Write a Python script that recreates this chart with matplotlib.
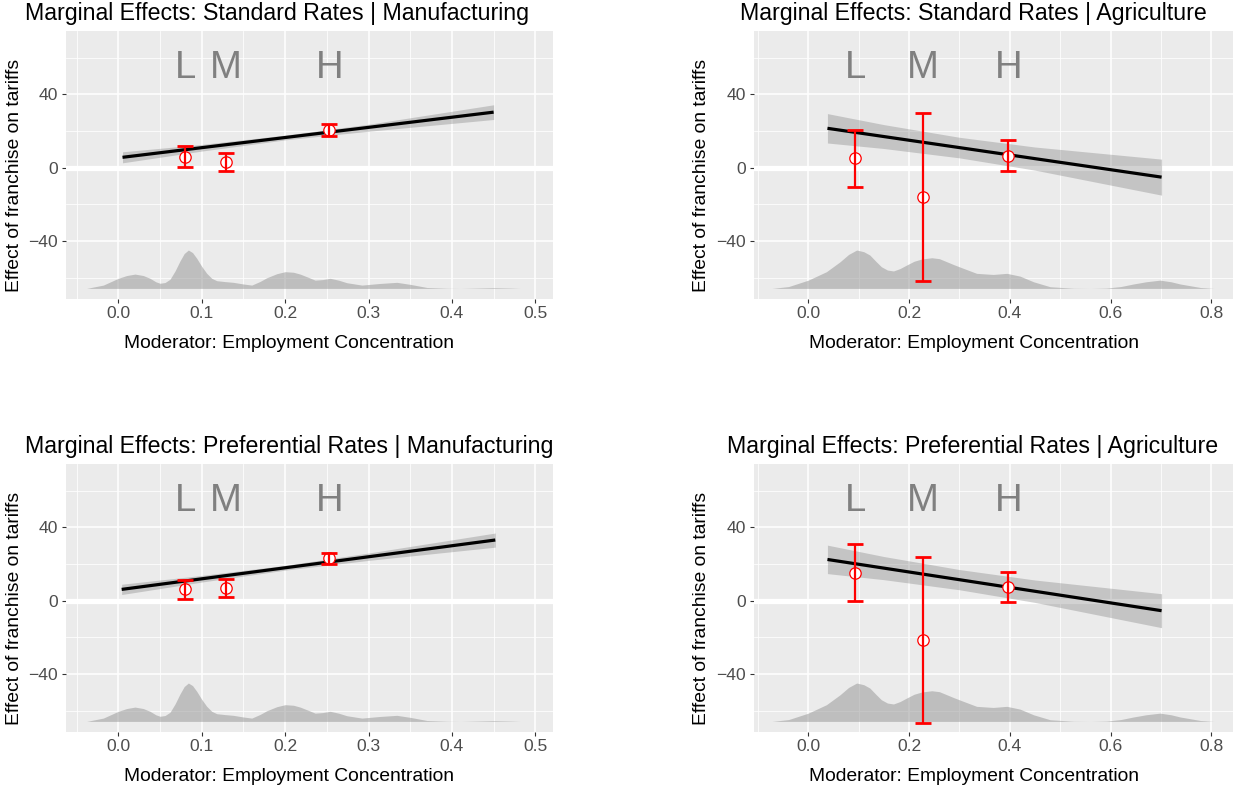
import matplotlib
matplotlib.use('Agg')
import matplotlib.pyplot as plt
from matplotlib.ticker import FixedLocator

plt.rcParams['font.family'] = ['Liberation Sans', 'DejaVu Sans']

# ---------------- data ----------------
titles = ["Marginal Effects: Standard Rates | Manufacturing",
          "Marginal Effects: Standard Rates | Agriculture",
          "Marginal Effects: Preferential Rates | Manufacturing",
          "Marginal Effects: Preferential Rates | Agriculture"]
xlabel = "Moderator: Employment Concentration"
ylabel = "Effect of franchise on tariffs"
bin_labels = ["L", "M", "H"]

# density of moderator (heights in y units above baseline)
manu_dens_x = [-0.038, -0.018, 0.0, 0.010, 0.020, 0.030, 0.038, 0.045, 0.05, 0.056, 0.062, 0.068,
               0.074, 0.079, 0.084, 0.089, 0.094, 0.100, 0.106, 0.112, 0.118, 0.128, 0.138, 0.150,
               0.160, 0.170, 0.178, 0.190, 0.2, 0.210, 0.218, 0.228, 0.236, 0.245, 0.254, 0.264,
               0.274, 0.292, 0.314, 0.334, 0.35, 0.37, 0.394, 0.41, 0.43, 0.45, 0.47, 0.482]
manu_dens_h = [0, 1.8, 5.5, 7.0, 7.8, 7.0, 5.5, 3.6, 2.8, 3.2, 5.0, 9.5,
               15.0, 19.0, 20.9, 19.5, 16.4, 12.0, 8.2, 5.5, 4.2, 3.7, 3.3, 2.4,
               1.8, 3.8, 5.8, 8.0, 9.1, 8.8, 7.8, 6.0, 4.5, 4.8, 5.5, 4.5,
               3.1, 1.8, 2.7, 3.3, 2.2, 0.5, 0.1, 0, 0.2, 0.4, 0.2, 0]
agri_dens_x = [-0.072, -0.039, 0.0, 0.036, 0.063, 0.080, 0.096, 0.110, 0.122, 0.135, 0.145, 0.157,
               0.169, 0.182, 0.195, 0.210, 0.225, 0.245, 0.260, 0.275, 0.290, 0.308, 0.334, 0.367,
               0.394, 0.420, 0.447, 0.48, 0.526, 0.56, 0.592, 0.620, 0.645, 0.670, 0.698, 0.720,
               0.738, 0.778, 0.805]
agri_dens_h = [0, 1.0, 4.5, 9.1, 14.5, 18.5, 20.9, 20.0, 18.2, 14.5, 11.8, 10.0,
               9.5, 10.8, 12.7, 14.8, 16.0, 16.7, 16.2, 14.5, 12.8, 10.9, 8.2, 7.6,
               8.2, 6.7, 3.6, 0.9, 0.1, 0, 0.2, 1.0, 2.4, 3.6, 4.5, 3.6,
               2.4, 0.5, 0]
dens_base = -65.7

# linear marginal effect lines and confidence bands
line_x = [[0.005, 0.45], [0.038, 0.701], [0.004, 0.452], [0.038, 0.701]]
line_y = [[5.7, 30.3], [21.5, -5.1], [6.2, 33.1], [22.5, -5.4]]
band_x = [[0.005, 0.1, 0.2, 0.3, 0.45],
          [0.038, 0.15, 0.3, 0.45, 0.701],
          [0.004, 0.1, 0.2, 0.3, 0.452],
          [0.038, 0.15, 0.3, 0.45, 0.701]]
band_lo = [[2.7, 9.1, 15.2, 19.9, 26.3],
           [13.5, 10.5, 5.4, -1.3, -14.9],
           [3.4, 10.2, 16.7, 22.0, 29.2],
           [14.8, 11.5, 6.0, -0.9, -14.65]]
band_hi = [[8.7, 12.7, 17.8, 23.7, 34.3],
           [29.5, 23.5, 16.6, 11.3, 4.7],
           [9.0, 13.8, 19.3, 26.0, 36.9],
           [30.3, 24.1, 17.0, 11.3, 3.85]]

# binned estimates
bin_x = [[0.080, 0.129, 0.253], [0.0927, 0.227, 0.397],
         [0.080, 0.129, 0.253], [0.0927, 0.227, 0.397]]
bin_est = [[5.9, 3.3, 20.5], [5.1, -15.8, 6.5], [6.2, 6.7, 23.1], [15.3, -21.4, 7.5]]
bin_lo = [[0.2, -1.8, 17.3], [-10.4, -61.7, -1.8], [0.8, 1.8, 19.8], [0.0, -66.5, -0.5]]
bin_hi = [[11.8, 8.2, 23.6], [20.5, 30.0, 14.9], [11.3, 11.7, 26.2], [30.7, 24.0, 15.5]]
label_y = 54.3

x_major = [[0.0, 0.1, 0.2, 0.3, 0.4, 0.5], [0.0, 0.2, 0.4, 0.6, 0.8]]
x_minor = [[-0.05, 0.05, 0.15, 0.25, 0.35, 0.45], [-0.1, 0.1, 0.3, 0.5, 0.7]]
y_major = [-40, 0, 40]
y_minor = [-60, -20, 20, 60]

# ---------------- layout ----------------
W, H = 1237, 788
fig = plt.figure(figsize=(W / 100, H / 100), dpi=100)
fig.patch.set_facecolor('white')

def rect(l, r, t, b):
    return [l / W, 1 - b / H, (r - l) / W, (b - t) / H]

col_l = [(65.7, 552.5), (753.6, 1233.0)]
row_t = [(31.0, 298.5), (464.0, 731.5)]
xlims = [(-0.0631, 0.5206), (-0.1085, 0.8427)]
ylim = (-71.2, 74.5)
title_x = [25, 740, 25, 727]
xlab_x = [289, 974]
ylab_x = [14.5, 702]

for k in range(4):
    r, c = k // 2, k % 2
    l, rr = col_l[c]
    t, b = row_t[r]
    ax = fig.add_axes(rect(l, rr, t, b))
    ax.set_facecolor('#EBEBEB')
    for s in ax.spines.values():
        s.set_visible(False)
    ax.set_xlim(*xlims[c])
    ax.set_ylim(*ylim)
    ax.xaxis.set_major_locator(FixedLocator(x_major[c]))
    ax.xaxis.set_minor_locator(FixedLocator(x_minor[c]))
    ax.yaxis.set_major_locator(FixedLocator(y_major))
    ax.yaxis.set_minor_locator(FixedLocator(y_minor))
    ax.set_xticklabels(["%.1f" % v for v in x_major[c]])
    ax.set_yticklabels(["%d" % v if v >= 0 else "\u2212%d" % -v for v in y_major])
    ax.grid(which='major', color='white', lw=1.1)
    ax.grid(which='minor', color='white', lw=0.55)
    ax.set_axisbelow(True)
    ax.tick_params(which='major', length=3.0, width=0.8, color='#333333',
                   labelsize=12.6, labelcolor='#4D4D4D', pad=2.6)
    ax.tick_params(which='minor', length=0)

    ax.axhline(0, color='white', lw=3.8, zorder=1)

    dx = manu_dens_x if c == 0 else agri_dens_x
    dh = manu_dens_h if c == 0 else agri_dens_h
    ax.fill_between(dx, [dens_base] * len(dx), [dens_base + h for h in dh],
                    color='#9A9A9A', alpha=0.55, lw=0, zorder=2)

    ax.fill_between(band_x[k], band_lo[k], band_hi[k], color='#6B6B6B', alpha=0.3,
                    lw=0, zorder=3)
    ax.plot(line_x[k], line_y[k], color='black', lw=2.3, zorder=4, solid_capstyle='butt')

    ax.plot(bin_x[k], bin_est[k], 'o', ms=8.2, mfc='white', mec='red', mew=0.9, zorder=5)
    yerr = [[e - lo for e, lo in zip(bin_est[k], bin_lo[k])],
            [hi - e for e, hi in zip(bin_est[k], bin_hi[k])]]
    ax.errorbar(bin_x[k], bin_est[k], yerr=yerr, fmt='none', ecolor='red',
                elinewidth=1.6, capsize=6.1, capthick=2.0, zorder=6)

    for xx, lab in zip(bin_x[k], bin_labels):
        ax.text(xx, label_y, lab, ha='center', va='center', fontsize=27.5,
                color='#808080', zorder=7)

    # titles and axis titles in figure pixel space
    fig.text(title_x[k] / W, 1 - (20 + 433 * r) / H, titles[k], ha='left',
             va='baseline', fontsize=16.7, color='black')
    fig.text(xlab_x[c] / W, 1 - (348 + 433 * r) / H, xlabel, ha='center',
             va='baseline', fontsize=13.9, color='black')
    fig.text(ylab_x[c] / W, 1 - (175.6 + 433 * r) / H, ylabel, ha='center',
             va='center', rotation=90, fontsize=13.9, color='black')

fig.savefig('out.png', dpi=100)
